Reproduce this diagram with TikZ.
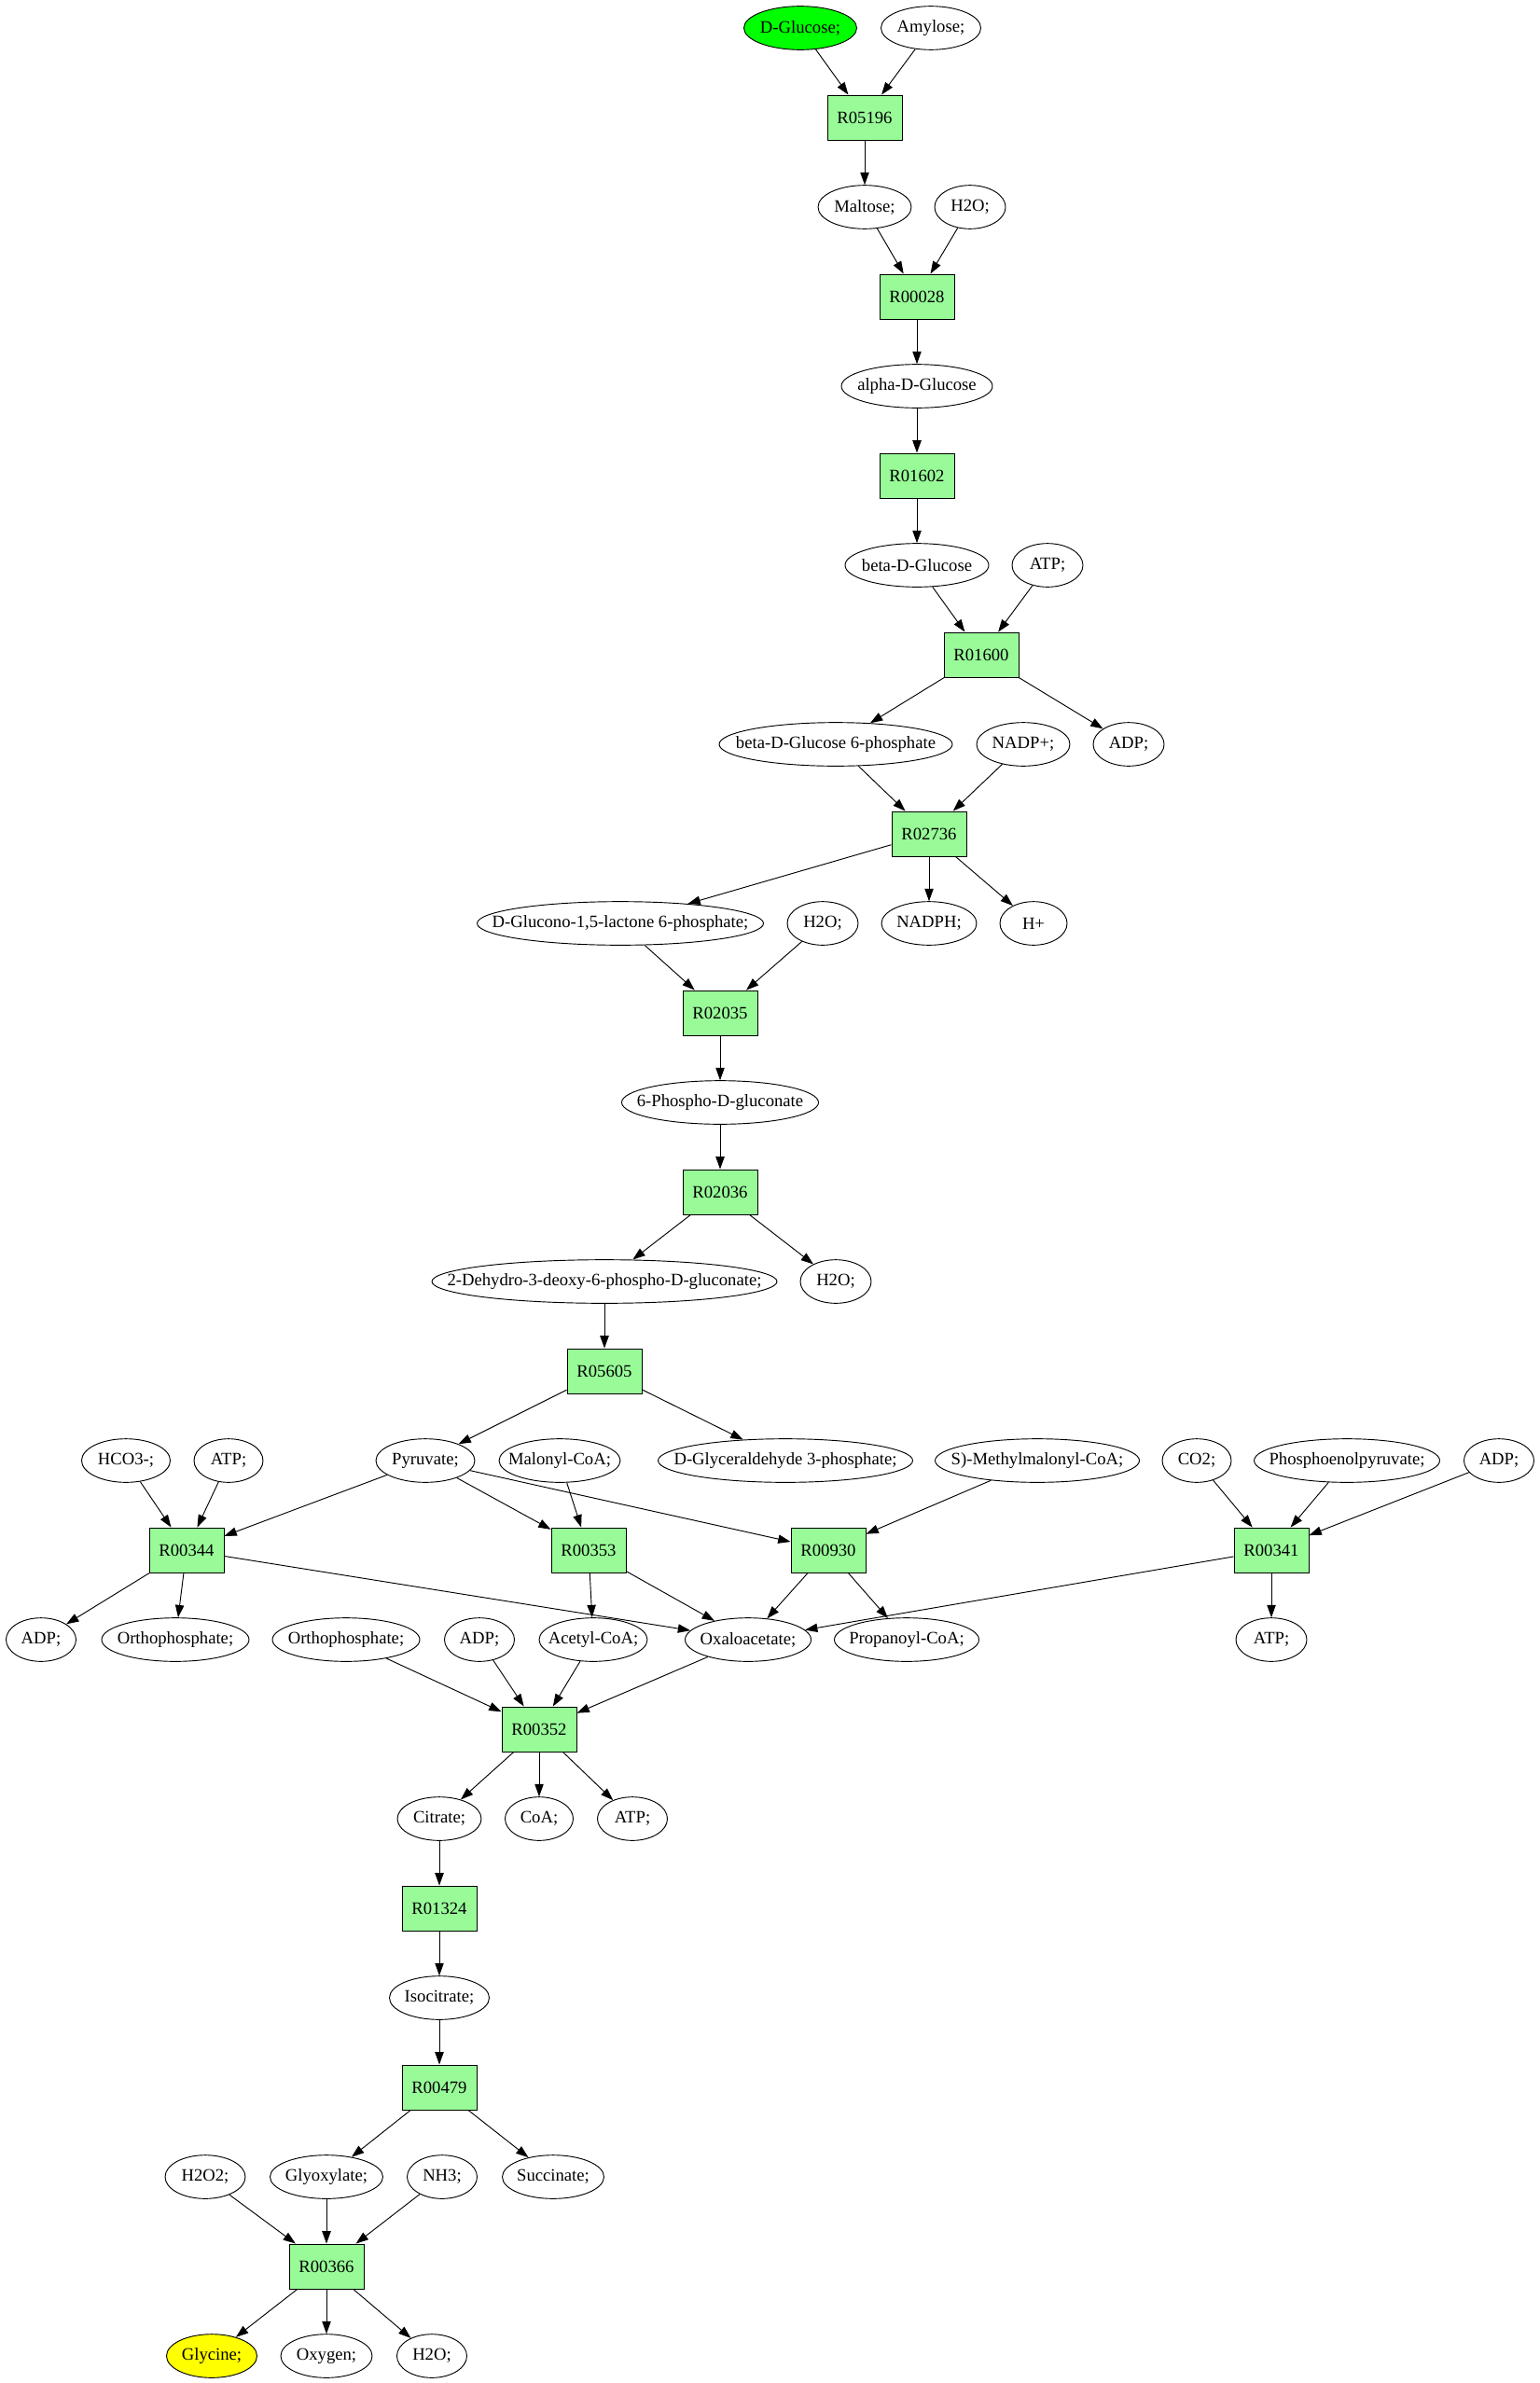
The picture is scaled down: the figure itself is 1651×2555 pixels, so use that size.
\documentclass[tikz,border=0pt]{standalone}
\usepackage{fontspec}
\setmainfont{Liberation Serif}
\usetikzlibrary{shapes.geometric,arrows.meta}
\definecolor{palegreen}{HTML}{98FB98}
\definecolor{puregreen}{HTML}{00FF00}
\definecolor{pureyellow}{HTML}{FFFF00}
\newcommand{\nm}[1]{\makebox[0pt]{#1}}
\begin{document}
\begin{tikzpicture}[x=0.75pt,y=-0.75pt,line width=0.7pt,
    >={Triangle[length=10pt,width=7pt]},
    font=\fontsize{14}{16}\selectfont,
    met/.style={ellipse,draw,inner sep=0pt,minimum height=35pt,minimum width=0.75pt*#1},
    rxn/.style={rectangle,draw,fill=palegreen,inner sep=0pt,minimum width=60pt,minimum height=36pt}]
    \useasboundingbox (0,0) rectangle (1651,2555);
    % glucose chain
    \path (858,30) node[met=121,fill=puregreen](dglucose){\nm{D-Glucose;}} (998,30) node[met=107](amylose){\nm{Amylose;}};
    \path (927,126) node[rxn](r05196){R05196};
    \path (927,222) node[met=100](maltose){\nm{Maltose;}} (1040,222) node[met=76](h2oa){\nm{H2O;}};
    \path (983,318) node[rxn](r00028){R00028};
    \path (983,414) node[met=162](aglucose){\nm{alpha-D-Glucose}};
    \path (983,510) node[rxn](r01602){R01602};
    \path (983,606) node[met=154](bglucose){\nm{beta-D-Glucose}} (1123,606) node[met=76](atpa){\nm{ATP;}};
    \path (1052,702) node[rxn](r01600){R01600};
    \path (896,798) node[met=250](bg6p){\nm{beta-D-Glucose 6-phosphate}} (1097,798) node[met=100](nadp){\nm{NADP+;}}
      (1210,798) node[met=76](adpa){\nm{ADP;}};
    \path (996,894) node[rxn](r02736){R02736};
    \path (665,990) node[met=307](glucono){\nm{D-Glucono-1,5-lactone 6-phosphate;}} (882,990) node[met=76](h2ob){\nm{H2O;}}
      (996,990) node[met=102](nadph){\nm{NADPH;}} (1108,990) node[met=72](hplus){\nm{H+}};
    \path (772,1086) node[rxn](r02035){R02035};
    \path (772,1182) node[met=211](pgluconate){\nm{6-Phospho-D-gluconate}};
    \path (772,1278) node[rxn](r02036){R02036};
    \path (648,1374) node[met=370](kdpg){\nm{2-Dehydro-3-deoxy-6-phospho-D-gluconate;}} (896,1374) node[met=76](h2oc){\nm{H2O;}};
    \path (648,1470) node[rxn](r05605){R05605};
    % pyruvate / oxaloacetate
    \path (135,1566) node[met=95](hco3){\nm{HCO3-;}} (245,1566) node[met=74](atpb){\nm{ATP;}}
      (456,1566) node[met=106](pyruvate){\nm{Pyruvate;}} (600,1566) node[met=130](malcoa){\nm{Malonyl-CoA;}}
      (842,1566) node[met=273](gap){\nm{D-Glyceraldehyde 3-phosphate;}} (1112,1566) node[met=219](mmcoa){\nm{S)-Methylmalonyl-CoA;}}
      (1283,1566) node[met=74](co2){\nm{CO2;}} (1444,1566) node[met=199](pep){\nm{Phosphoenolpyruvate;}}
      (1607,1566) node[met=75](adpb){\nm{ADP;}};
    \path (200,1662) node[rxn](r00344){R00344} (631,1662) node[rxn](r00353){R00353}
      (888,1662) node[rxn](r00930){R00930} (1363,1662) node[rxn](r00341){R00341};
    \path (44,1758) node[met=75](adpc){\nm{ADP;}} (188,1758) node[met=158](pia){\nm{Orthophosphate;}}
      (371,1758) node[met=158](pib){\nm{Orthophosphate;}} (514,1758) node[met=75](adpd){\nm{ADP;}}
      (636,1758) node[met=116](accoa){\nm{Acetyl-CoA;}} (802,1758) node[met=135](oaa){\nm{Oxaloacetate;}}
      (972,1758) node[met=155](propcoa){\nm{Propanoyl-CoA;}} (1363,1758) node[met=76](atpc){\nm{ATP;}};
    % citrate to glycine
    \path (578,1854) node[rxn](r00352){R00352};
    \path (471,1950) node[met=90](citrate){\nm{Citrate;}} (578,1950) node[met=73](coa){\nm{CoA;}}
      (678,1950) node[met=75](atpd){\nm{ATP;}};
    \path (471,2046) node[rxn](r01324){R01324};
    \path (471,2142) node[met=107](isocitrate){\nm{Isocitrate;}};
    \path (471,2238) node[rxn](r00479){R00479};
    \path (220,2334) node[met=86](h2o2){\nm{H2O2;}} (350,2334) node[met=121](glyoxylate){\nm{Glyoxylate;}}
      (474,2334) node[met=75](nh3){\nm{NH3;}} (593,2334) node[met=109](succinate){\nm{Succinate;}};
    \path (350,2430) node[rxn](r00366){R00366};
    \path (227,2526) node[met=97,fill=pureyellow](glycine){\nm{Glycine;}} (350,2526) node[met=98](oxygen){\nm{Oxygen;}}
      (463,2526) node[met=75](h2od){\nm{H2O;}};
    % edges
    \draw[->] (dglucose) -- (r05196);
    \draw[->] (amylose) -- (r05196);
    \draw[->] (r05196) -- (maltose);
    \draw[->] (maltose) -- (r00028);
    \draw[->] (h2oa) -- (r00028);
    \draw[->] (r00028) -- (aglucose);
    \draw[->] (aglucose) -- (r01602);
    \draw[->] (r01602) -- (bglucose);
    \draw[->] (bglucose) -- (r01600);
    \draw[->] (atpa) -- (r01600);
    \draw[->] (r01600) -- (bg6p);
    \draw[->] (r01600) -- (adpa);
    \draw[->] (bg6p) -- (r02736);
    \draw[->] (nadp) -- (r02736);
    \draw[->] (r02736) -- (glucono);
    \draw[->] (r02736) -- (nadph);
    \draw[->] (r02736) -- (hplus);
    \draw[->] (glucono) -- (r02035);
    \draw[->] (h2ob) -- (r02035);
    \draw[->] (r02035) -- (pgluconate);
    \draw[->] (pgluconate) -- (r02036);
    \draw[->] (r02036) -- (kdpg);
    \draw[->] (r02036) -- (h2oc);
    \draw[->] (kdpg) -- (r05605);
    \draw[->] (r05605) -- (pyruvate);
    \draw[->] (r05605) -- (gap);
    \draw[->] (hco3) -- (r00344);
    \draw[->] (atpb) -- (r00344);
    \draw[->] (pyruvate) -- (r00344);
    \draw[->] (pyruvate) -- (r00353);
    \draw[->] (malcoa) -- (r00353);
    \draw[->] (pyruvate) -- (r00930);
    \draw[->] (mmcoa) -- (r00930);
    \draw[->] (co2) -- (r00341);
    \draw[->] (pep) -- (r00341);
    \draw[->] (adpb) -- (r00341);
    \draw[->] (r00344) -- (adpc);
    \draw[->] (r00344) -- (pia);
    \draw[->] (r00344) -- (oaa);
    \draw[->] (r00353) -- (accoa);
    \draw[->] (r00353) -- (oaa);
    \draw[->] (r00930) -- (oaa);
    \draw[->] (r00930) -- (propcoa);
    \draw[->] (r00341) -- (oaa);
    \draw[->] (r00341) -- (atpc);
    \draw[->] (pib) -- (r00352);
    \draw[->] (adpd) -- (r00352);
    \draw[->] (accoa) -- (r00352);
    \draw[->] (oaa) -- (r00352);
    \draw[->] (r00352) -- (citrate);
    \draw[->] (r00352) -- (coa);
    \draw[->] (r00352) -- (atpd);
    \draw[->] (citrate) -- (r01324);
    \draw[->] (r01324) -- (isocitrate);
    \draw[->] (isocitrate) -- (r00479);
    \draw[->] (r00479) -- (glyoxylate);
    \draw[->] (r00479) -- (succinate);
    \draw[->] (h2o2) -- (r00366);
    \draw[->] (glyoxylate) -- (r00366);
    \draw[->] (nh3) -- (r00366);
    \draw[->] (r00366) -- (glycine);
    \draw[->] (r00366) -- (oxygen);
    \draw[->] (r00366) -- (h2od);
\end{tikzpicture}
\end{document}
